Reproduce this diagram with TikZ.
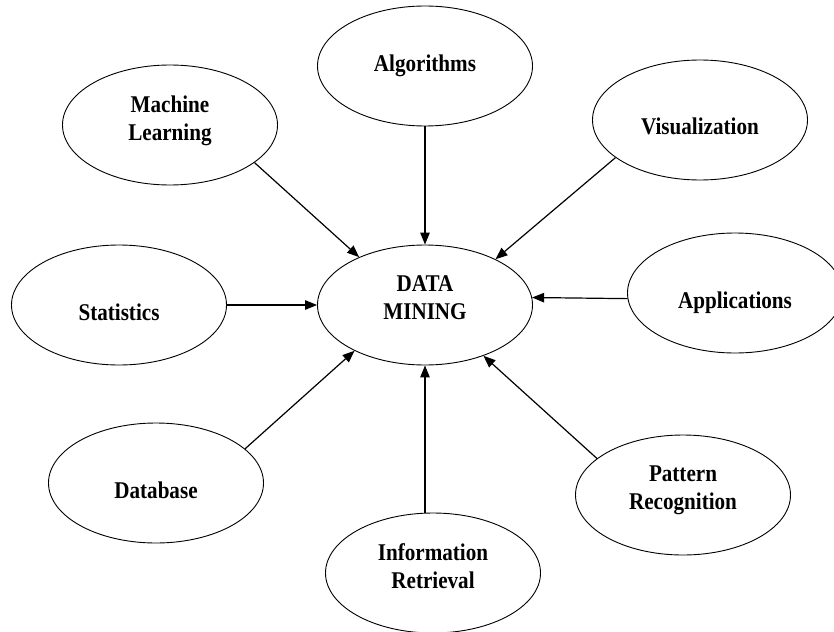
\documentclass[tikz,border=0pt]{standalone}
\usepackage{fontspec}
\setmainfont{Liberation Serif}[FakeStretch=0.88]
\usetikzlibrary{arrows.meta, shapes.geometric}

\begin{document}
\begin{tikzpicture}[x=1pt, y=-1pt,
    topic/.style={ellipse, draw=black, line width=0.9pt, minimum width=215pt, minimum height=120pt, inner sep=0pt, align=center, font=\fontsize{24}{28}\selectfont\bfseries},
    oneline/.style={text height=36pt, text depth=6pt},
    twoline/.style={text depth=14pt},
    arrow/.style={-{Triangle[length=12pt, width=9.5pt]}, line width=1.2pt},
  ]
  \useasboundingbox (0,0) rectangle (834,631);

  % centre and the fields around it
  \node[topic, twoline] (dm) at (425,305) {DATA\\MINING};
  \node[topic] (alg) at (425,66) {Algorithms};
  \node[topic, twoline] (ml) at (170,125) {Machine\\Learning};
  \node[topic, oneline] (vis) at (700,120) {Visualization};
  \node[topic, oneline] (stat) at (119,305) {Statistics};
  \node[topic, oneline] (app) at (735,293) {Applications};
  \node[topic, oneline] (db) at (156,483) {Database};
  \node[topic, twoline] (pr) at (683,495) {Pattern\\Recognition};
  \node[topic, twoline] (ir) at (433,573) {Information\\Retrieval};

  % everything points in
  \draw[arrow] (ml.-24) -- (dm.144);
  \draw[arrow] (alg) -- (dm);
  \draw[arrow] (vis.204) -- (dm.33);
  \draw[arrow] (stat) -- (dm);
  \draw[arrow] (app.183) -- (dm.4);
  \draw[arrow] (db.21) -- (dm.213);
  \draw[arrow] (dm.south |- ir.north) -- (dm.south);
  \draw[arrow] (pr.157) -- (dm.-41);
\end{tikzpicture}
\end{document}
